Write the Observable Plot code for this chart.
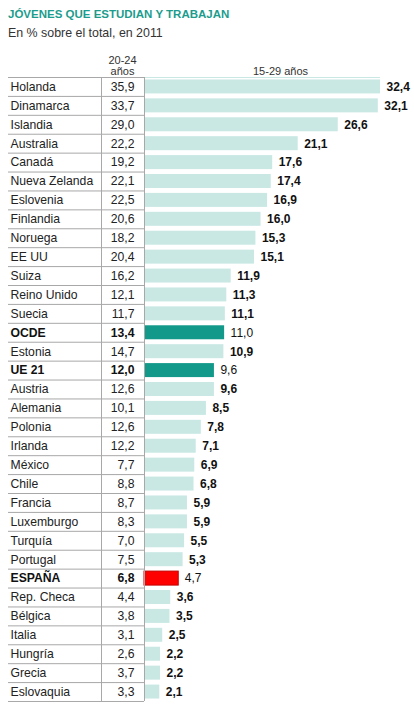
<!DOCTYPE html>
<html>
<head>
<meta charset="utf-8">
<script src="https://cdn.jsdelivr.net/npm/d3@7"></script>
<script src="https://cdn.jsdelivr.net/npm/@observablehq/plot@0.6"></script>
<style>
  html, body { margin: 0; padding: 0; background: #fff; }
  body { width: 414px; height: 708px; position: relative; font-family: Arial, "Liberation Sans", sans-serif; }
  #head { position: relative; height: 42px; }
  #title { position: absolute; left: 8px; top: 7px; font-size: 11.5px; line-height: 14px; font-weight: bold; color: #1b9c8d; }
  #subtitle { position: absolute; left: 8px; top: 26px; font-size: 12.4px; line-height: 14px; color: #333; }
  #chart svg { display: block; }
</style>
</head>
<body>
<div id="head">
  <div id="title">JÓVENES QUE ESTUDIAN Y TRABAJAN</div>
  <div id="subtitle">En % sobre el total, en 2011</div>
</div>
<div id="chart"></div>
<script>
const countries = ["Holanda","Dinamarca","Islandia","Australia","Canadá","Nueva Zelanda","Eslovenia","Finlandia","Noruega","EE UU","Suiza","Reino Unido","Suecia","OCDE","Estonia","UE 21","Austria","Alemania","Polonia","Irlanda","México","Chile","Francia","Luxemburgo","Turquía","Portugal","ESPAÑA","Rep. Checa","Bélgica","Italia","Hungría","Grecia","Eslovaquia"];
const v2024 = [35.9,33.7,29.0,22.2,19.2,22.1,22.5,20.6,18.2,20.4,16.2,12.1,11.7,13.4,14.7,12.0,12.6,10.1,12.6,12.2,7.7,8.8,8.7,8.3,7.0,7.5,6.8,4.4,3.8,3.1,2.6,3.7,3.3];
const v1529 = [32.4,32.1,26.6,21.1,17.6,17.4,16.9,16.0,15.3,15.1,11.9,11.3,11.1,11.0,10.9,9.6,9.6,8.5,7.8,7.1,6.9,6.8,5.9,5.9,5.5,5.3,4.7,3.6,3.5,2.5,2.2,2.2,2.1];
const averages = ["OCDE","UE 21"];
const spain = ["ESPAÑA"];
const header2024 = ["20-24", "años"];
const header1529 = ["15-29 años"];

const rows = countries.map((c, i) => ({country: c, a: v2024[i], b: v1529[i]}));
const isBold = d => averages.includes(d.country) || spain.includes(d.country);
const fmt = v => v.toFixed(1).replace(".", ",");

const W = 414, H = 666, MT = 35, MB = 7, ML = 8, MR = 34;
const x0 = 144, x1 = 380;
const step = (H - MT - MB) / rows.length;
const tableW = x0 - ML;
const barW = x1 - x0;

const LIGHT = "#c9e8e4", DARK = "#13998a", RED = "#ff0000", LINE = "#a8a8a8";
const fillOf = d => spain.includes(d.country) ? RED : averages.includes(d.country) ? DARK : LIGHT;

const chart = Plot.plot({
  width: W, height: H,
  marginTop: MT, marginBottom: MB, marginLeft: ML, marginRight: MR,
  style: {fontFamily: "Arial, 'Liberation Sans', sans-serif", fontSize: "12px", color: "#222", background: "#fff"},
  x: {domain: [0, d3.max(v1529)], range: [x0, x1], axis: null},
  y: {domain: countries, axis: null, paddingInner: 0.26, paddingOuter: 0.13, round: false},
  color: {type: "identity"},
  marks: [
    Plot.barX(rows, {x: "b", y: "country", fill: fillOf, stroke: d => spain.includes(d.country) ? "#c40000" : "none", strokeWidth: 1}),
    Plot.ruleY(rows, {y: "country", dy: -step / 2, insetRight: barW, stroke: LINE, strokeWidth: 1}),
    Plot.ruleY(rows.slice(-1), {y: "country", dy: step / 2, insetRight: barW, stroke: LINE, strokeWidth: 1}),
    Plot.ruleY(rows.slice(0, 1), {y: "country", dy: -step / 2, insetLeft: tableW, stroke: LIGHT, strokeWidth: 1}),
    Plot.ruleX([0], {stroke: LINE, strokeWidth: 1}),
    Plot.ruleX([0], {stroke: LINE, strokeWidth: 1, dx: -43}),
    Plot.text(rows, {filter: d => !isBold(d), y: "country", text: "country", frameAnchor: "left", dx: 2, textAnchor: "start", fill: "#222", fontSize: 12.2}),
    Plot.text(rows, {filter: isBold, y: "country", text: "country", frameAnchor: "left", dx: 2, textAnchor: "start", fill: "#111", fontSize: 12.2, fontWeight: "bold"}),
    Plot.text(rows, {filter: d => !isBold(d), y: "country", text: d => fmt(d.a), frameAnchor: "left", dx: 126, textAnchor: "end", fill: "#222", fontSize: 12.2}),
    Plot.text(rows, {filter: isBold, y: "country", text: d => fmt(d.a), frameAnchor: "left", dx: 126, textAnchor: "end", fill: "#111", fontSize: 12.2, fontWeight: "bold"}),
    Plot.text(rows, {filter: d => !isBold(d), x: "b", y: "country", text: d => fmt(d.b), dx: 6, textAnchor: "start", fill: "#111", fontSize: 12, fontWeight: "bold"}),
    Plot.text(rows, {filter: isBold, x: "b", y: "country", text: d => fmt(d.b), dx: 6, textAnchor: "start", fill: "#111", fontSize: 12}),
    Plot.text([header2024[0]], {text: d => d, frameAnchor: "top-left", dx: 114, dy: -21.5, textAnchor: "middle", fill: "#333", fontSize: 11}),
    Plot.text([header2024[1]], {text: d => d, frameAnchor: "top-left", dx: 114, dy: -10.5, textAnchor: "middle", fill: "#333", fontSize: 11}),
    Plot.text(header1529, {text: d => d, frameAnchor: "top-left", dx: 272, dy: -10.5, textAnchor: "middle", fill: "#333", fontSize: 11})
  ]
});
document.getElementById("chart").appendChild(chart);
</script>
</body>
</html>
